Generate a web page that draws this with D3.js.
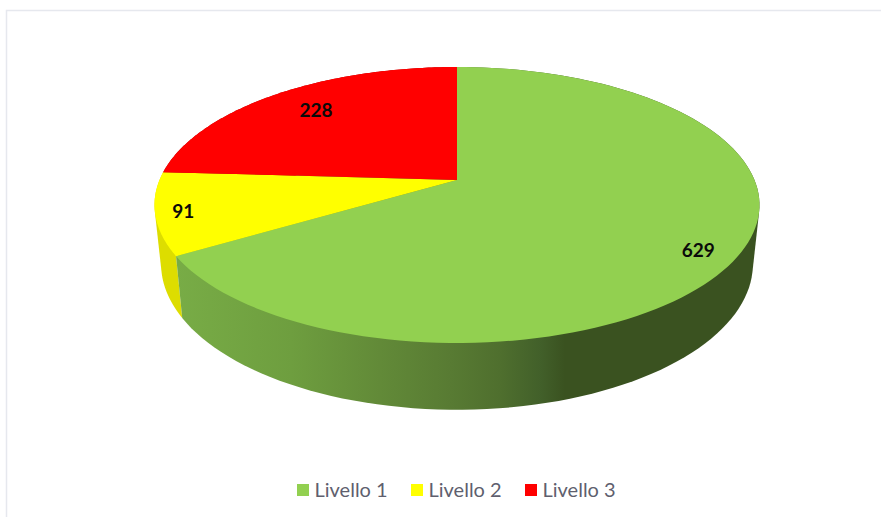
<!DOCTYPE html>
<html>
<head>
<meta charset="utf-8">
<script src="https://cdn.jsdelivr.net/npm/d3@7/dist/d3.min.js"></script>
<style>
  html, body { margin: 0; padding: 0; background: #fff; }
  svg { display: block; }
</style>
</head>
<body>
<svg id="chart" width="881" height="517"></svg>
<script>
const categories = ["Livello 1", "Livello 2", "Livello 3"];
const values = [629, 91, 228];
const colors = ["#92d050", "#ffff00", "#ff0000"];
const sideColors = [null, "#dddd00", "#b00000"];

const svg = d3.select("#chart");
const defs = svg.append("defs");

// Frame around the chart area
svg.append("path")
  .attr("d", "M6.5,517V10.5H881")
  .attr("fill", "none").attr("stroke", "#e6e8ee").attr("stroke-width", 1.5);

// Slice angles, clockwise from twelve o'clock
const pie = d3.pie().sort(null).value(d => d);
const arcs = pie(values);

// Perspective projection of a unit disc lying flat: far side (v = 1) shrinks
const k = 0.181;
const topFace = { x: d3.scaleLinear().domain([0, 1]).range([457, 754.5]),
                  y: d3.scaleLinear().domain([0, 1]).range([180, 46.5]) };
const baseFace = { x: d3.scaleLinear().domain([0, 1]).range([457, 748]),
                   y: d3.scaleLinear().domain([0, 1]).range([237.6, 96.6]) };

function project(face, angle, r) {
  const u = r * Math.sin(angle), v = r * Math.cos(angle), w = 1 + k * v;
  return [face.x(u / w), face.y(v / w)];
}
const angleSteps = (a0, a1) => d3.range(0, 121).map(i => a0 + (a1 - a0) * i / 120);
const line = d3.line();

// Gradient of the green wall: lit on the left, falling into shadow on the right
const grad = defs.append("linearGradient")
  .attr("id", "wallShade").attr("gradientUnits", "userSpaceOnUse")
  .attr("x1", 176).attr("x2", 752).attr("y1", 0).attr("y2", 0);
[[0, "#78ac46"], [0.2, "#6e9e3f"], [0.354, "#628a38"], [0.476, "#587b33"], [0.5625, "#4f6f2e"], [0.632, "#42602a"], [0.675, "#3a5220"], [1, "#3a5220"]]
  .forEach(([o, c]) => grad.append("stop").attr("offset", o).attr("stop-color", c));

// Walls: the hull of both rims gives the straight tangent edges at the sides.
// Drawn back to front so the nearest slice stays on top.
svg.append("g").selectAll("path")
  .data(arcs.slice().reverse()).join("path")
  .attr("d", d => {
    const steps = angleSteps(d.startAngle, d.endAngle);
    const rims = steps.map(a => project(topFace, a, 1))
      .concat(steps.map(a => project(baseFace, a, 1)));
    return line(d3.polygonHull(rims)) + "Z";
  })
  .attr("fill", d => sideColors[d.index] || "url(#wallShade)");

// Top faces
svg.append("g").selectAll("path")
  .data(arcs).join("path")
  .attr("d", d => {
    const rim = angleSteps(d.startAngle, d.endAngle).map(a => project(topFace, a, 1));
    return line([project(topFace, 0, 0)].concat(rim)) + "Z";
  })
  .attr("fill", (d, i) => colors[i]);

// Value labels inside the slices
const labelRadius = [0.86, 0.91, 0.76];
const labelNudge = [8, 0, -3];
svg.append("g").selectAll("text")
  .data(arcs).join("text")
  .each(function (d, i) {
    const [x, y] = project(topFace, (d.startAngle + d.endAngle) / 2, labelRadius[i]);
    d3.select(this).attr("x", x).attr("y", y + labelNudge[i]);
  })
  .attr("text-anchor", "middle").attr("dominant-baseline", "central")
  .attr("font-family", "Lato, 'Open Sans', sans-serif")
  .attr("font-size", 19).attr("font-weight", 700).attr("fill", "#0a0a0a")
  .text(d => d.data);

// Legend
const legendX = d3.scalePoint().domain(categories).range([297, 525]);
const legend = svg.append("g").selectAll("g")
  .data(categories).join("g")
  .attr("transform", d => `translate(${legendX(d)},484)`);
legend.append("rect")
  .attr("width", 12).attr("height", 12)
  .attr("fill", (d, i) => colors[i]);
legend.append("text")
  .attr("x", 17.5).attr("y", 4.5).attr("dominant-baseline", "central")
  .attr("font-family", "Lato, 'Open Sans', sans-serif")
  .attr("font-size", 20).attr("fill", "#5f5f6e")
  .text(d => d);
</script>
</body>
</html>
